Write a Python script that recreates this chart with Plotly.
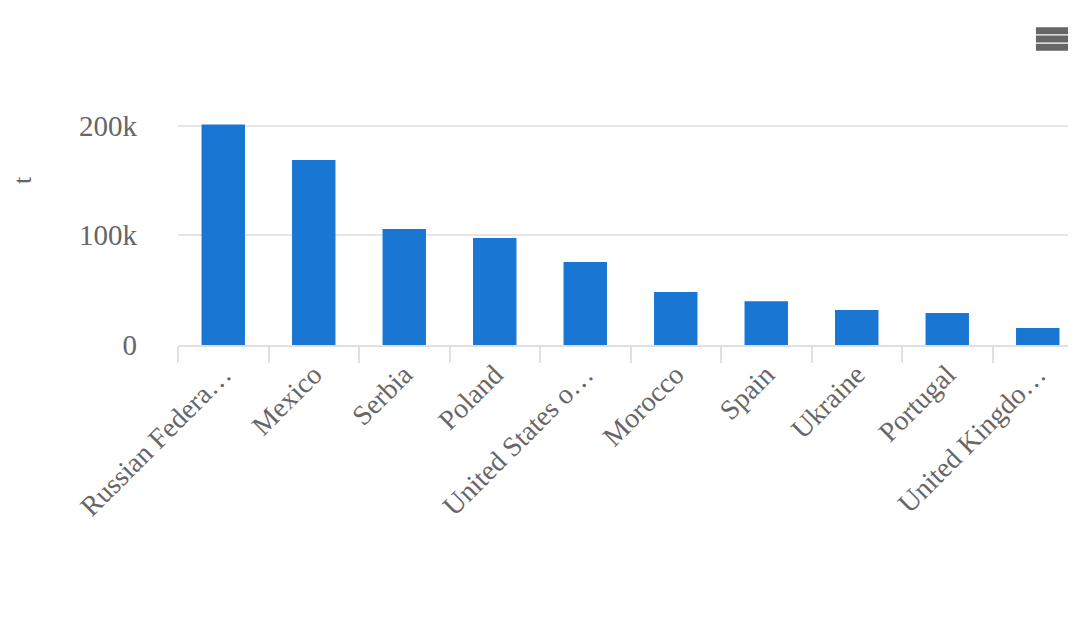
import plotly.graph_objects as go

categories = ["Russian Federa…", "Mexico", "Serbia", "Poland", "United States o…",
              "Morocco", "Spain", "Ukraine", "Portugal", "United Kingdo…"]
values = [201000, 168600, 105700, 97500, 75700, 48300, 40000, 31900, 29200, 15500]
y_ticks = [0, 100000, 200000, 300000]
y_labels = ["0", "100k", "200k", "300k"]

fig = go.Figure(go.Bar(x=categories, y=values, marker_color="#1976d2", marker_line_width=0))
fig.update_layout(
    width=1076, height=629, paper_bgcolor="white", plot_bgcolor="white",
    margin=dict(l=170, r=1, t=8, b=292), bargap=0.52, showlegend=False,
    font=dict(family="Liberation Serif", color="#666666"),
    xaxis=dict(tickson="boundaries", ticks="outside", ticklen=16, tickwidth=2, tickcolor="#e0e0e0",
               showline=True, linecolor="#e0e0e0", linewidth=2, tickangle=-45,
               tickfont=dict(size=28), showgrid=False, automargin=False),
    yaxis=dict(range=[0, 300000], tickvals=y_ticks, ticktext=y_labels, gridcolor="#e6e6e6",
               gridwidth=2, tickfont=dict(size=29), zeroline=False, ticklabelstandoff=40,
               automargin=False,
               title=dict(text="t", font=dict(size=26), standoff=105)),
)
for yy in [0.955, 0.93, 0.905]:
    fig.add_shape(type="line", xref="paper", yref="paper", x0=0.948, x1=0.985, y0=yy, y1=yy,
                  line=dict(color="#666666", width=7))
fig.write_html("out.html")
